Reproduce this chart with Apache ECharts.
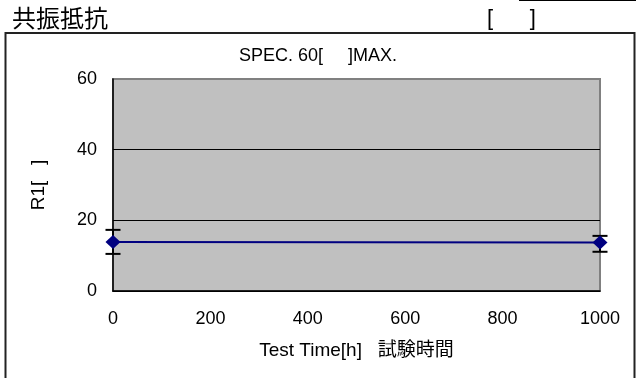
<!DOCTYPE html>
<html><head><meta charset="utf-8">
<script src="https://cdn.jsdelivr.net/npm/echarts@6/dist/echarts.min.js"></script>
<style>html,body{margin:0;padding:0;background:#fff}#c{width:636px;height:378px}</style>
</head><body><div id="c"></div>
<script>
const times = [0, 1000];
const means = [13.9, 13.7];
const upper = [17.3, 15.6];
const lower = [10.5, 11.1];
const xTicks = [0, 200, 400, 600, 800, 1000];
const yTicks = [0, 20, 40, 60];

const chart = echarts.init(document.getElementById('c'), null, {renderer: 'canvas'});
const F = '"Liberation Sans", Arial, sans-serif';
const FJ = '"Liberation Sans", "Noto Sans CJK JP", sans-serif';
chart.setOption({
  animation: false,
  backgroundColor: '#fff',
  grid: {left: 113, right: 36, top: 79, bottom: 87, show: true, backgroundColor: '#c0c0c0', borderColor: '#808080', borderWidth: 2},
  xAxis: {
    type: 'value', min: xTicks[0], max: xTicks[xTicks.length-1], interval: 200,
    name: 'Test Time[h]   試験時間', nameLocation: 'middle', nameGap: 50,
    nameTextStyle: {fontFamily: FJ, fontSize: 19, color: '#000'},
    axisLine: {show: true, lineStyle: {color: '#000', width: 1.5}},
    axisTick: {show: false},
    axisLabel: {fontFamily: F, fontSize: 18, color: '#000', margin: 19, formatter: v => String(v)},
    splitLine: {show: false}
  },
  yAxis: {
    type: 'value', min: yTicks[0], max: yTicks[yTicks.length-1], interval: 20,
    name: 'R1[   ]', nameLocation: 'middle', nameGap: 65, nameRotate: 90,
    nameTextStyle: {fontFamily: F, fontSize: 19, color: '#000'},
    axisLine: {show: true, lineStyle: {color: '#000', width: 1.5}},
    axisTick: {show: false},
    axisLabel: {fontFamily: F, fontSize: 18, color: '#000', margin: 16, formatter: v => String(v)},
    splitLine: {show: true, lineStyle: {color: ['#000', '#000', '#000', '#808080'], width: 1}}
  },
  graphic: [
    {type: 'text', left: 12, top: 6, style: {text: '共振抵抗', font: '24px "Noto Sans CJK JP"', fill: '#000'}},
    {type: 'text', left: 487, top: 8, style: {text: '[      ]', font: '22px "Liberation Sans"', fill: '#000'}},
    {type: 'text', left: 239, top: 47, style: {text: 'SPEC. 60[     ]MAX.', font: '18px "Liberation Sans"', fill: '#000'}},
    {type: 'line', shape: {x1: 519, y1: 0.5, x2: 636, y2: 0.5}, style: {stroke: '#000', lineWidth: 1}},
    {type: 'polyline', shape: {points: [[5.5, 378], [5.5, 33], [634.5, 33], [634.5, 378]]}, style: {stroke: '#222', lineWidth: 2, fill: null}}
  ],
  series: [
    {
      type: 'custom', z: 2, clip: false,
      data: times.map((t, i) => [t, upper[i], lower[i]]),
      renderItem: function (params, api) {
        const x = api.value(0);
        const pu = api.coord([x, api.value(1)]);
        const pl = api.coord([x, api.value(2)]);
        const w = 7.5;
        const st = {stroke: '#000', lineWidth: 2};
        return {type: 'group', children: [
          {type: 'line', shape: {x1: pu[0], y1: pu[1], x2: pl[0], y2: pl[1]}, style: st},
          {type: 'line', shape: {x1: pu[0]-w, y1: pu[1], x2: pu[0]+w, y2: pu[1]}, style: st},
          {type: 'line', shape: {x1: pl[0]-w, y1: pl[1], x2: pl[0]+w, y2: pl[1]}, style: st}
        ]};
      }
    },
    {
      type: 'line', z: 3, clip: false,
      data: times.map((t, i) => [t, means[i]]),
      symbol: 'diamond', symbolSize: [15, 14],
      itemStyle: {color: '#000080'},
      lineStyle: {color: '#000080', width: 2}
    }
  ]
});
</script></body></html>
